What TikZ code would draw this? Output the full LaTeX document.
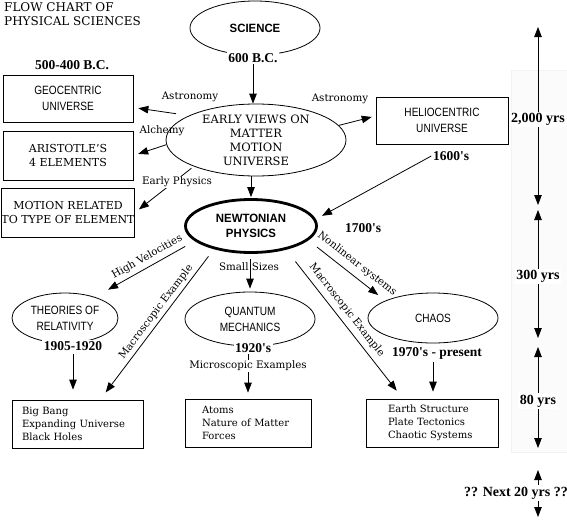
\documentclass[tikz,border=0pt]{standalone}
\usepackage{fontspec}
\setmainfont{DejaVu Serif}
\newfontfamily\datef{Liberation Serif}
\newfontfamily\sansf[FakeStretch=0.84]{Liberation Sans}
\newfontfamily\sansbf[FakeStretch=0.95]{Liberation Sans}
\usetikzlibrary{shapes.geometric,arrows.meta}
\begin{document}
\begin{tikzpicture}[x=1pt,y=-1pt,
  ell/.style={ellipse, draw, line width=0.8pt, inner sep=0pt, align=center},
  rbox/.style={rectangle, draw, line width=0.8pt, inner sep=0pt, align=center},
  lbox/.style={rectangle, draw, line width=0.8pt, inner ysep=0pt, align=left, minimum height=48pt, font=\fontsize{10}{13}\selectfont},
  sanst/.style={font=\sansf\fontsize{12}{16}\selectfont},
  capt/.style={font=\fontsize{11}{14.5}\selectfont},
  datet/.style={font=\datef\bfseries\fontsize{13.5}{15}\selectfont, fill=white, inner sep=1.5pt},
  yrst/.style={font=\datef\bfseries\fontsize{14}{16}\selectfont, fill=white, inner sep=1.5pt},
  lab/.style={font=\fontsize{10.3}{12}\selectfont, inner sep=1pt},
  arr/.style={line width=0.8pt, -{Triangle[length=10pt,width=7.5pt]}},
  darr/.style={line width=0.8pt, {Triangle[length=10pt,width=7.5pt]}-{Triangle[length=10pt,width=7.5pt]}},
]
\useasboundingbox (0,0) rectangle (567,522);
\filldraw[fill=black!1.5, draw=black!5] (511,70) rectangle (572,452);

\node[anchor=north west, inner sep=0pt, align=left, font=\fontsize{12}{13.5}\selectfont] (title) at (4,2.5) {FLOW CHART OF\\PHYSICAL SCIENCES};

% main shapes
\node[ell, minimum width=130, minimum height=54, font=\sansbf\bfseries\fontsize{12}{14}\selectfont] (sci) at (255,28) {SCIENCE};
\node[datet] (d600) at (253,58) {600 B.C.};
\node[datet] (d500) at (72,65) {500-400 B.C.};
\node[rbox, minimum width=130, minimum height=47, sanst] (geo) at (68,98.5) {GEOCENTRIC\\UNIVERSE};
\node[rbox, minimum width=130, minimum height=49, capt] (arist) at (68,155.5) {ARISTOTLE'S\\4 ELEMENTS};
\node[rbox, minimum width=130, minimum height=49, capt] (motion) at (68,212.5) {MOTION RELATED\\TO TYPE OF ELEMENT};
\node[ell, minimum width=180, minimum height=72, font=\fontsize{11.5}{14}\selectfont] (early) at (256,140) {EARLY VIEWS ON\\MATTER\\MOTION\\UNIVERSE};
\node[rbox, minimum width=132, minimum height=47, sanst] (helio) at (442,120.5) {HELIOCENTRIC\\UNIVERSE};
\node[datet] (d1600) at (451,156) {1600's};
\node[ell, line width=2.8pt, minimum width=131, minimum height=53, font=\sansbf\bfseries\fontsize{12}{15}\selectfont] (newt) at (251,226) {NEWTONIAN\\PHYSICS};
\node[datet] (d1700) at (363,228) {1700's};
\node[ell, minimum width=106, minimum height=50, sanst] (rel) at (65,318) {THEORIES OF\\RELATIVITY};
\node[datet] (d1905) at (73,346) {1905-1920};
\node[ell, minimum width=130, minimum height=54, sanst] (qm) at (250,319) {QUANTUM\\MECHANICS};
\node[datet] (d1920) at (253,348) {1920's};
\node[ell, minimum width=130, minimum height=50, sanst] (chaos) at (433,318) {CHAOS};
\node[datet] (d1970) at (437,353) {1970's - present};

\node[lbox, text width=111, inner xsep=10] (bb) at (77.5,424) {Big Bang\\Expanding Universe\\Black Holes};
\node[lbox, text width=92, inner xsep=17] (atoms) at (248,423) {Atoms\\Nature of Matter\\Forces};
\node[lbox, text width=88, inner xsep=22] (earth) at (432,423) {Earth Structure\\Plate Tectonics\\Chaotic Systems};

% connectors
\draw[arr] (d600.south) -- (d600.south |- early.north);
\draw[arr, shorten <=13pt, shorten >=5pt] (early.160) -- ([yshift=-9pt]geo.east);
\draw[arr, shorten >=5pt] (early.183) -- (arist.east);
\draw[arr, shorten <=3pt, shorten >=5pt] (early.203) -- (motion.east);
\draw[arr, shorten >=4pt] (early.10) -- ([yshift=4.5pt]helio.west);
\draw[arr, shorten >=7pt] (d1600.west) -- (newt.6);
\draw[arr, shorten >=1pt] (newt.north |- early.south) -- (newt.north);
\draw[arr, shorten <=11pt, shorten >=15pt] (newt.195) -- (rel.35)
  node[pos=0.43, sloped, above=3pt, lab] (lhv) {High Velocities};
\draw[arr, shorten <=9pt, shorten >=9pt] (newt.212) -- (bb.47)
  node[pos=0.45, sloped, above=2pt, lab] (lmac1) {Macroscopic Example};
\draw[arr, shorten <=5pt, shorten >=3pt] (qm.north |- newt.south) -- (qm.north);
\draw[arr, shorten <=11pt, shorten >=9pt] (newt.-14) -- (chaos.160)
  node[pos=0.54, sloped, above=5pt, lab] (lnl) {Nonlinear systems};
\draw[arr, shorten <=15pt, shorten >=10pt] (newt.-34) -- (earth.140)
  node[pos=0.45, sloped, above=4pt, lab] (lmac2) {Macroscopic Example};
\draw[arr, shorten <=2pt, shorten >=10pt] (d1905.south) -- (d1905.south |- bb.north);
\draw[arr, shorten >=6pt] (d1920.south -| atoms.north) -- (atoms.north);
\draw[arr, shorten <=1pt, shorten >=7pt] (chaos.south |- d1970.south) -- (chaos.south |- earth.north);

% labels
\node[lab] (lastro) at (190,97) {Astronomy};
\node[lab] (lalch) at (162,131) {Alchemy};
\node[lab, fill=white] (lphys) at (177,182) {Early Physics};
\node[lab] (lastro2) at (340,99) {Astronomy};
\node[lab] (lsmall) at (249,267) {Small Sizes};
\node[lab, fill=white] (lmicro) at (248,366) {Microscopic Examples};

% timeline
\coordinate (t0) at (538,27);
\coordinate (t1) at (538,205);
\coordinate (t2) at (538,210);
\coordinate (t3) at (538,338);
\coordinate (t4) at (538,347);
\coordinate (t5) at (538,448);
\coordinate (t6) at (538,470);
\coordinate (t7) at (538,517);
\draw[darr] (t0) -- (t1) node[pos=0.52, yrst] (y2000) {2,000 yrs};
\draw[darr] (t2) -- (t3) node[pos=0.52, yrst] (y300) {300 yrs};
\draw[darr] (t4) -- (t5) node[pos=0.535, yrst] (y80) {80 yrs};
\draw[darr] (t6) -- (t7) node[pos=0.49, xshift=-22pt, yrst] (y20) {?? Next 20 yrs ??};
\end{tikzpicture}
\end{document}
